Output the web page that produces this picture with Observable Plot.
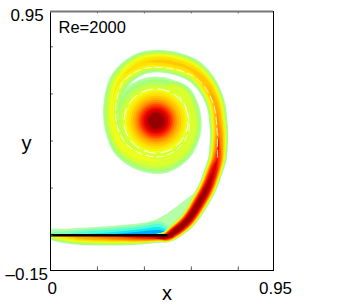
<!DOCTYPE html>
<html><head><meta charset="utf-8">
<style>html,body{margin:0;padding:0;background:#fff}svg{display:block}</style>
<script src="https://cdn.jsdelivr.net/npm/d3@7"></script>
<script src="https://cdn.jsdelivr.net/npm/@observablehq/plot@0.6"></script>
</head><body><script>
const warmStops=["#b4ffa8","#a4ff78","#c8ff44","#eeff18","#ffe000","#ffb000","#ff7000","#ff2a00","#dd0000","#9c0000"];
const coolLevels=[.04,.15,.3,.45,.6,.8];
const coolColors=["#b4ffa8","#88ffb8","#50ffd8","#10e8f4","#00a8ff","#0040e0"];
// spiral centre line, peak intensity, half width (data units)
const spiralX=[.44,.49,.524,.584,.639,.669,.699,.712,.718,.716,.702,.66,.597,.481,.383,.298,.264,.268,.311,.396,.481,.56,.605,.595,.56,.50];
const spiralY=[-.012,-.008,.012,.063,.148,.204,.285,.331,.425,.47,.562,.647,.705,.738,.727,.660,.562,.459,.374,.327,.319,.361,.447,.544,.604,.63];
const spiralPeak=[.5,.95,1,1,.98,.95,.86,.76,.64,.6,.56,.54,.5,.5,.46,.4,.36,.36,.36,.35,.34,.33,.32,.32,.34,.3];
const spiralWidth=[.012,.024,.032,.036,.04,.04,.04,.04,.04,.04,.042,.046,.05,.05,.05,.046,.04,.04,.05,.06,.06,.05,.04,.04,.04,.03];
// thin sheet
const sheetX=[0,.064,.128,.256,.383,.47,.52];
const sheetDepth=[.018,.036,.043,.045,.04,.03,.02];
const sheetPeak=[.34,.5,.6,.7,.85,.98,1];
const sheetUp=[.028,.03,.034,.042,.053,.07,.07];
const sheetCool=[.25,.35,.5,.65,.85,.85,.2];
const wedgeX=[.426,.498,.626,.605,.545,.47];
const wedgeY=[.045,.093,.182,.127,.029,.005];
// central vortex: intensity against radius
const coreLevel=[.04,.14,.24,.34,.44,.54,.64,.74,.84,.93,1];
const coreRadius=[.19,.178,.155,.135,.118,.098,.08,.066,.052,.034,.024];
const coreCentre=[.45,.485];
const contourX=[.712,.708,.695,.655,.597,.481,.383,.31,.28,.285,.325,.396,.481,.55,.59,.58,.55];
const contourY=[.331,.47,.552,.632,.682,.712,.703,.650,.562,.46,.385,.342,.335,.375,.447,.535,.59];
const xTicks=[.2,.4,.6,.8], yTicks=[.2,.4,.6,.8];

const warmLevels=d3.range(.04,.99,.05);
const warmColor=d3.scaleLinear().domain(coreLevel.slice(0,10)).range(warmStops);
const radiusAt=d3.scaleLinear().domain(coreLevel).range(coreRadius);

function ribbon(level,color,id){
  const L=[],R=[];
  spiralX.forEach((x,i)=>{
    const a=Math.max(0,i-1),b=Math.min(spiralX.length-1,i+1);
    const dx=spiralX[b]-spiralX[a],dy=spiralY[b]-spiralY[a],n=Math.hypot(dx,dy);
    const w=spiralWidth[i]*Math.sqrt(Math.max(0,1-level/spiralPeak[i]));
    L.push({x:x-dy/n*w,y:spiralY[i]+dx/n*w,color,id});
    R.push({x:x+dy/n*w,y:spiralY[i]-dx/n*w,color,id});
  });
  return [...L,...R.reverse()];
}
function sheet(depths,pk,level,color,sign,id,linear){
  const pts=sheetX.map((x,i)=>{
    const f=Math.max(0,1-level/pk[i]);
    return {x,y:sign*depths[i]*(linear?f:Math.sqrt(f)),color,id};
  });
  return [...pts,...sheetX.map(x=>({x,y:0,color,id})).reverse()];
}
const poly=(rows)=>Plot.line(rows,{x:"x",y:"y",z:"id",fill:"color",stroke:null,curve:"catmull-rom-closed"});
const wedge=wedgeX.map((x,i)=>({x,y:wedgeY[i],color:coolColors[0],id:"w"}));
const pxPerUnit=223/.95;

const plot=Plot.plot({
  width:362,height:306,marginLeft:50,marginRight:89,marginTop:11,marginBottom:36,
  style:{background:"#fff",fontFamily:"'Liberation Sans',Arial,sans-serif",color:"#000"},
  x:{domain:[0,.95],axis:null},y:{domain:[-.15,.95],axis:null},
  r:{type:"linear",domain:[0,1],range:[0,pxPerUnit]},
  marks:[
    poly(wedge),
    coolLevels.map((l,i)=>poly(sheet(sheetUp,sheetCool,l,coolColors[i],1,"c"+i,true))),
    warmLevels.map((l,i)=>[
      Plot.dot([radiusAt(l)],{x:()=>coreCentre[0],y:()=>coreCentre[1],r:d=>d,fill:warmColor(l),stroke:null}),
      poly(sheet(sheetDepth,sheetPeak,l,warmColor(l),-1,"s"+i)),
      poly(ribbon(l,warmColor(l),"r"+i))
    ]),
    Plot.line(contourX.map((x,i)=>({x,y:contourY[i]})),{x:"x",y:"y",stroke:"#fff",strokeWidth:.8,strokeDasharray:"7 4",curve:"catmull-rom"}),
    Plot.dot([.137],{x:()=>coreCentre[0],y:()=>coreCentre[1],r:d=>d,fill:null,stroke:"#fff",strokeWidth:.9,strokeDasharray:"12 5"}),
    Plot.ruleY([0],{x1:0,x2:.5,stroke:"#000",strokeWidth:2.5}),
    Plot.ruleX(xTicks,{y1:-.15,y2:-.135,stroke:"#555"}),
    Plot.ruleY(yTicks.concat([0]),{x1:0,x2:.012,stroke:"#555"}),
    Plot.ruleX(xTicks,{y1:.95,y2:.94,stroke:"#555"}),
    Plot.frame({stroke:"#000"}),
    Plot.ruleY([.95],{stroke:"#777",strokeWidth:2}),
    Plot.text(["Re=2000"],{frameAnchor:"top-left",dx:8,dy:10,fontSize:16.5}),
    Plot.text(["0.95"],{frameAnchor:"top-left",dx:-40,dy:-3,textAnchor:"start",fontSize:17}),
    Plot.text(["\u20130.15"],{frameAnchor:"bottom-left",dx:-45,dy:9,textAnchor:"start",fontSize:17}),
    Plot.text(["y"],{frameAnchor:"left",dx:-29,dy:3,fontSize:20}),
    Plot.text(["0"],{frameAnchor:"bottom-left",dx:-3,dy:23,fontSize:17}),
    Plot.text(["0.95"],{frameAnchor:"bottom-right",dx:2,dy:23,textAnchor:"middle",fontSize:17}),
    Plot.text(["x"],{frameAnchor:"bottom",dx:5,dy:29,fontSize:20})
  ]
});
document.body.appendChild(plot);
</script></body></html>
